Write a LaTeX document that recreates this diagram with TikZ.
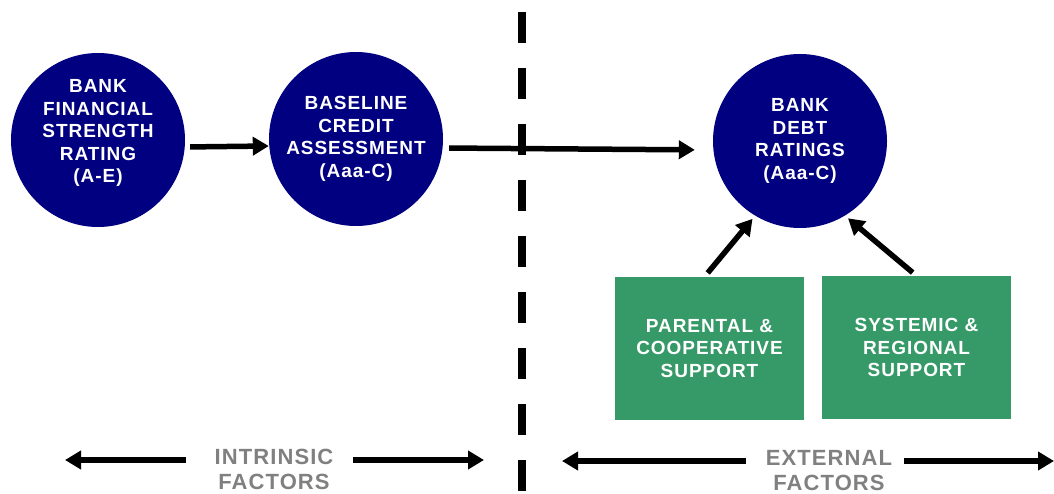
\documentclass[tikz,border=0pt]{standalone}
\usepackage{fontspec}
\setmainfont{Liberation Sans}[LetterSpace=5]
\usetikzlibrary{arrows.meta}
\tikzset{>={Triangle[length=16pt,width=18pt]}}
\definecolor{ratingblue}{RGB}{0,0,128}
\definecolor{supportgreen}{RGB}{54,153,104}
\definecolor{factorgray}{RGB}{128,128,128}
\tikzset{
  rating/.style={circle,fill=ratingblue,minimum size=174pt,inner sep=0pt,text=white,align=center,font=\fontsize{19}{22.5}\selectfont\bfseries},
  support/.style={rectangle,fill=supportgreen,minimum width=189pt,minimum height=143pt,inner sep=0pt,text=white,align=center,font=\fontsize{19}{22.5}\selectfont\bfseries},
  factor/.style={text=factorgray,align=center,inner sep=0pt,font=\fontsize{22}{25}\selectfont\bfseries},
  link/.style={->,line width=5.5pt},
}

\begin{document}
\begin{tikzpicture}[x=1pt,y=-1pt]
\bfseries
\useasboundingbox (0,0) rectangle (1054,494);
% ratings
\node[rating] (bfsr) at (98,140) {BANK\\FINANCIAL\\STRENGTH\\RATING\\(A-E)\\[-5pt]};
\node[rating] (bca) at (356,139) {BASELINE\\CREDIT\\ASSESSMENT\\(Aaa-C)};
\node[rating] (bdr) at (800,141) {BANK\\DEBT\\RATINGS\\(Aaa-C)};
% support
\node[support] (parent) at (709.5,348.5) {PARENTAL \&\\COOPERATIVE\\SUPPORT};
\node[support] (system) at (916.5,347.5) {SYSTEMIC \&\\REGIONAL\\SUPPORT};
% divider
\coordinate (divtop) at (522,12);
\coordinate (divbot) at (522,494);
\draw[line width=8pt,dash pattern=on 31pt off 25pt] (divtop) -- (divbot);
\draw[link,shorten <=5pt] ([yshift=-7pt]bfsr.east) -- ([yshift=-7pt]bca.west);
\draw[link,shorten <=6pt,shorten >=18pt] ([yshift=-9pt]bca.east) -- ([yshift=-9pt]bdr.west);
\draw[link,shorten <=5pt,shorten >=4pt] ([xshift=-5pt]parent.north) -- (bdr.239);
\draw[link,shorten <=5pt,shorten >=4pt] (system.north) -- (bdr.301);
% factors
\node[factor] (intr) at (274,469) {INTRINSIC\\FACTORS};
\node[factor] (extr) at (829,471) {EXTERNAL\\FACTORS};
\coordinate (intrleft) at (65,460);
\coordinate (intrright) at (484,460);
\coordinate (extrleft) at (562,461);
\coordinate (extrright) at (1054,461);
\draw[link,shorten <=28pt] (intr.west |- intrleft) -- (intrleft);
\draw[link,shorten <=19pt] (intr.east |- intrright) -- (intrright);
\draw[link,shorten <=20pt] (extr.west |- extrleft) -- (extrleft);
\draw[link,shorten <=12pt] (extr.east |- extrright) -- (extrright);
\end{tikzpicture}
\end{document}
